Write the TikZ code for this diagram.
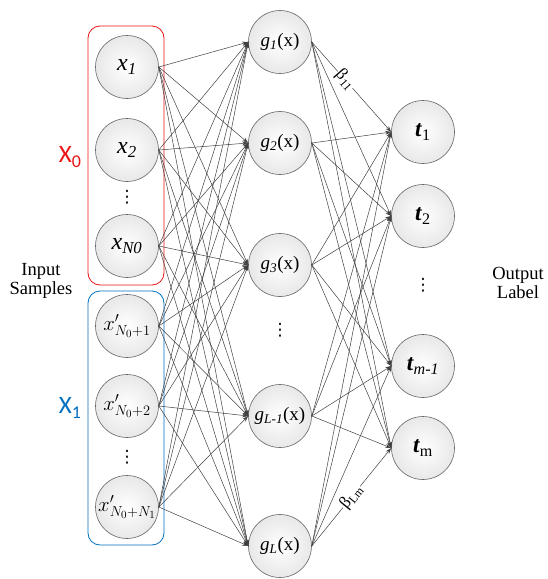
\documentclass[tikz,border=0pt]{standalone}
\usepackage{fontspec}
\setmainfont{Liberation Serif}
\newfontfamily\calfont{Carlito}
\newfontfamily\dejavu{DejaVu Sans}
\usetikzlibrary{arrows.meta}
\definecolor{boxred}{RGB}{235,20,20}
\definecolor{boxblue}{RGB}{0,112,192}
\begin{document}
\begin{tikzpicture}[x=1pt,y=-1pt,
  neuron/.style={circle, draw=black!60, line width=0.6pt, inner color=white, outer color=black!9, minimum size=63pt, inner sep=0pt},
  conn/.style={draw=black!75, line width=0.5pt, -{Stealth[length=6pt,width=4pt]}},
  groupbox/.style={rounded corners=12pt, line width=0.8pt},
  vdots/.style={inner sep=0pt, font=\dejavu\fontsize{17}{17}\selectfont},
  lab/.style={font=\fontsize{18.5}{19}\selectfont, align=center},
  betalab/.style={sloped, fill=white, inner sep=0.8pt, font=\fontsize{17}{17}\selectfont}]
\useasboundingbox (0,0) rectangle (547,579);
% group boxes
\draw[groupbox, draw=boxred] (88,26) rectangle (164,285);
\draw[groupbox, draw=boxblue] (88,291) rectangle (164,545);
% input nodes
\node[neuron] (i1) at (127,67) {\fontsize{24}{24}\selectfont\textit{x}\textsubscript{\textit{1}}};
\node[neuron] (i2) at (127,150) {\fontsize{24}{24}\selectfont\textit{x}\textsubscript{\textit{2}}};
\node[neuron] (i3) at (127,246) {\fontsize{24}{24}\selectfont\textit{x}\textsubscript{\textit{N0}}};
\node[neuron] (i4) at (127,326) {\fontsize{21}{21}\selectfont$x'_{N_0+1}$};
\node[neuron] (i5) at (127,406) {\fontsize{21}{21}\selectfont$x'_{N_0+2}$};
\node[neuron] (i6) at (127,507) {\fontsize{21}{21}\selectfont$x'_{N_0+N_1}$};
\node[vdots] (d1) at (127,197) {⋮};
\node[vdots] (d2) at (127,457) {⋮};
% hidden nodes
\node[neuron] (h1) at (280,42) {\fontsize{19}{19}\selectfont\textit{g}\textsubscript{\textit{1}}(x)};
\node[neuron] (h2) at (280,143) {\fontsize{19}{19}\selectfont\textit{g}\textsubscript{\textit{2}}(x)};
\node[neuron] (h3) at (280,265) {\fontsize{19}{19}\selectfont\textit{g}\textsubscript{\textit{3}}(x)};
\node[neuron] (h4) at (280,416) {\fontsize{19}{19}\selectfont\textit{g}\textsubscript{\textit{L-1}}(x)};
\node[neuron] (h5) at (280,546) {\fontsize{19}{19}\selectfont\textit{g}\textsubscript{\textit{L}}(x)};
\node[vdots] (d3) at (280,330) {⋮};
% output nodes
\node[neuron] (o1) at (423,132) {\fontsize{23}{23}\selectfont\textbf{\textit{t}}\textsubscript{1}};
\node[neuron] (o2) at (423,216) {\fontsize{23}{23}\selectfont\textbf{\textit{t}}\textsubscript{2}};
\node[neuron] (o3) at (423,366) {\fontsize{23}{23}\selectfont\textbf{\textit{t}}\textsubscript{\textit{m-1}}};
\node[neuron] (o4) at (423,448) {\fontsize{23}{23}\selectfont\textbf{\textit{t}}\textsubscript{m}};
\node[vdots] (d4) at (423,285) {⋮};
% connections
\foreach \i in {1,...,6}{
  \foreach \h in {1,...,5}{
    \draw[conn] (i\i.east) -- (h\h.west);
  }
}
\foreach \h in {1,...,5}{
  \foreach \o in {1,...,4}{
    \draw[conn] (h\h.east) -- (o\o.west);
  }
}
\path (h1.east) -- node[betalab, pos=0.42] {β\textsubscript{11}} (o1.west);
\path (h5.east) -- node[betalab, pos=0.5] {β\textsubscript{Lm}} (o4.west);
% labels
\node[text=boxred, font=\calfont\fontsize{25}{25}\selectfont] (x0) at (70,157) {X\raisebox{-0.35ex}{\fontsize{18}{18}\selectfont 0}};
\node[text=boxblue, font=\calfont\fontsize{25}{25}\selectfont] (x1) at (70,408) {X\raisebox{-0.35ex}{\fontsize{18}{18}\selectfont 1}};
\node[lab] (inlab) at (41,281) {Input\\Samples};
\node[lab] (outlab) at (518,283) {Output\\Label};
\end{tikzpicture}
\end{document}
